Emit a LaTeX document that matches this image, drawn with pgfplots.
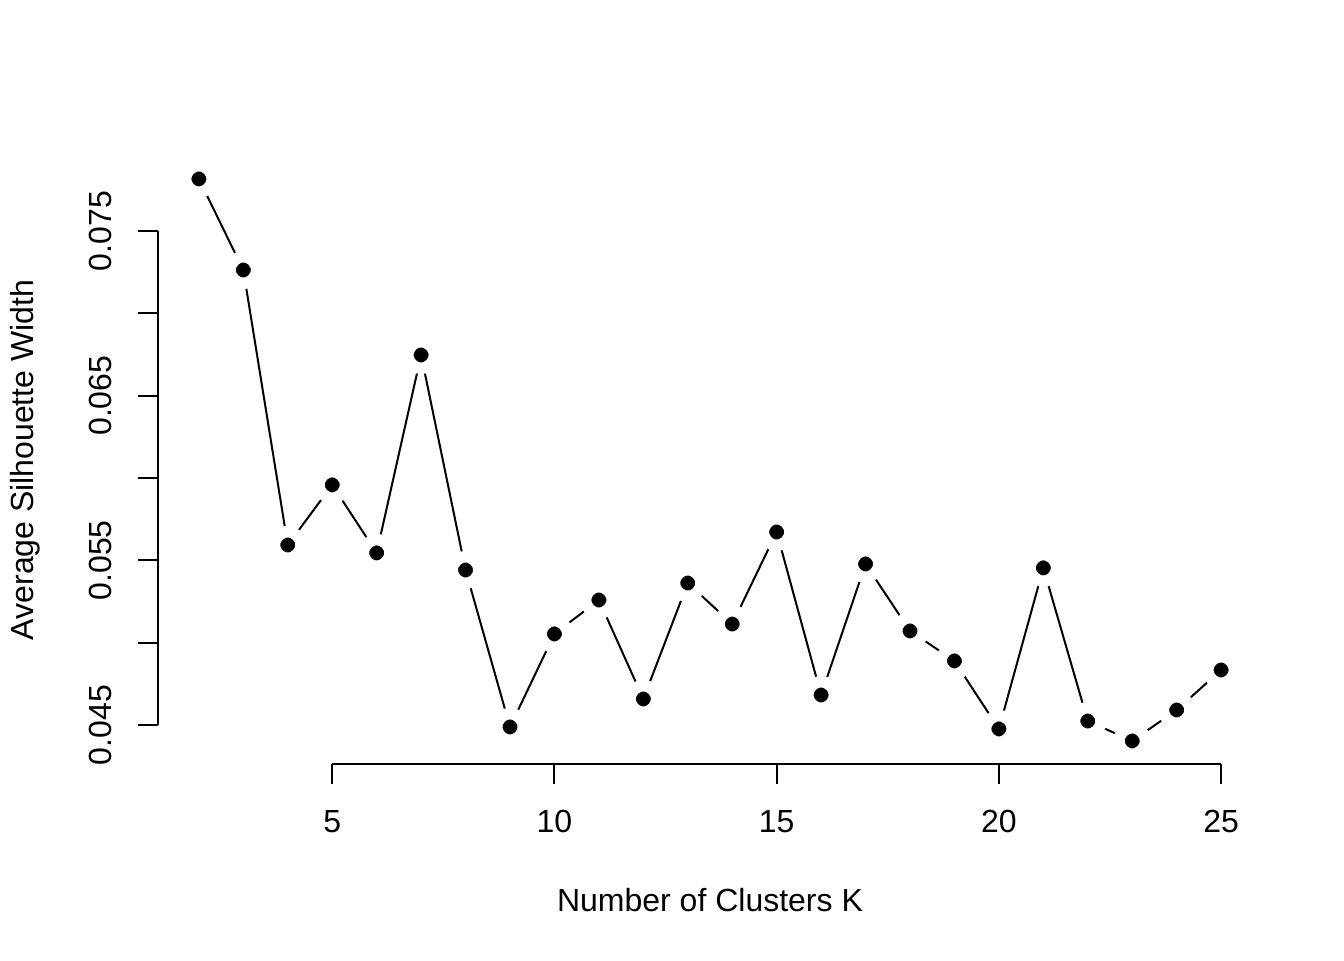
\documentclass[border=0pt]{standalone}
\usepackage{fontspec}
\setmainfont{Liberation Sans}
\usepackage{pgfplots}
\pgfplotsset{compat=1.18}
\begin{document}
\fontsize{12}{14}\selectfont
\begin{tikzpicture}
\useasboundingbox (-59.25pt,-73.69pt) rectangle (444.75pt,286.31pt);
\begin{axis}[
  scale only axis,
  width=414pt, height=227.66pt,
  xmin=1.08, xmax=25.92,
  ymin=0.04266, ymax=0.07953,
  axis lines*=left,
  axis line style={draw=none,-},
  clip=false,
  scaled y ticks=false,
  tick align=outside,
  major tick length=7.5pt,
  every tick/.style={black, line width=0.75pt},
  xtick={5,10,15,20,25},
  ytick={0.045,0.05,0.055,0.06,0.065,0.07,0.075},
  yticklabels={0.045,,0.055,,0.065,,0.075},
  xticklabels={5,10,15,20,25},
  xticklabel style={anchor=base, yshift=-18.56pt, inner sep=0pt},
  yticklabel style={anchor=base, xshift=-9.9pt, rotate=90, inner sep=0pt},
  xlabel={Number of Clusters K},
  ylabel={Average Silhouette Width},
  every axis x label/.style={at={(axis description cs:0.5,-0.24385)}, anchor=base, inner sep=0pt},
  every axis y label/.style={at={(axis description cs:-0.11304,0.5)}, anchor=base, rotate=90, inner sep=0pt},
]
\addplot[black, line width=0.75pt, mark=*, mark size=4.97pt,
  mark options={fill=black, draw=white, line width=4.31pt}] coordinates {
(2,0.07816) (3,0.07263) (4,0.05593) (5,0.05958) (6,0.05545) (7,0.06747)
(8,0.05441) (9,0.04488) (10,0.05053) (11,0.05259) (12,0.04658) (13,0.05362)
(14,0.05113) (15,0.05672) (16,0.04682) (17,0.05478) (18,0.05071) (19,0.04889)
(20,0.04476) (21,0.05454) (22,0.04524) (23,0.04403) (24,0.04591) (25,0.04834)
};
\draw[black, line width=0.75pt] (axis cs:5,0.04266) -- (axis cs:25,0.04266);
\draw[black, line width=0.75pt] (axis cs:1.08,0.045) -- (axis cs:1.08,0.075);
\end{axis}
\end{tikzpicture}
\end{document}
